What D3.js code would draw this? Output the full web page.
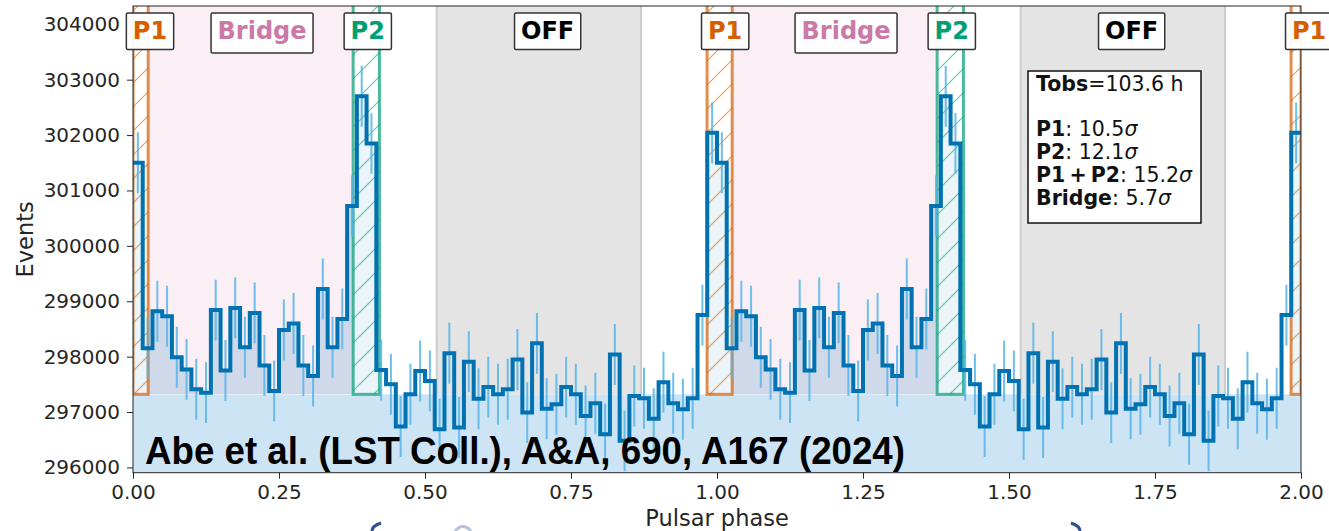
<!DOCTYPE html>
<html>
<head>
<meta charset="utf-8">
<script src="https://cdn.jsdelivr.net/npm/d3@7"></script>
<style>
  body { margin: 0; background: #fff; }
  svg { display: block; font-family: "DejaVu Sans", sans-serif; }
</style>
</head>
<body>
<svg id="chart" width="1329" height="531"></svg>
<script>
"use strict";

// events per phase bin, 60 bins per period
const binCounts = [
  301500, 298150, 298820, 298730, 297990, 297770, 297410, 297350, 298840, 297750,
  298880, 298170, 298790, 297840, 297380, 298480, 298600, 297840, 297650, 299220,
  298170, 298680, 300720, 302700, 301850, 297760, 297500, 296740, 297320, 297740,
  297560, 296690, 298060, 296720, 297910, 297240, 297450, 297320, 297410, 297950,
  296990, 298240, 297060, 297140, 297450, 297320, 296930, 297160, 296600, 298040,
  296480, 297290, 297250, 296880, 297540, 297160, 297050, 297250, 298750, 302040
];
const nBins = 60;
const periods = [0, 1];
const errHalf = 550;      // half length of the error bars (events)
const offLevel = 297320;  // background level estimated in OFF

// phase regions
const regionNames = ["P1", "Bridge", "P2", "OFF"];
const regionStart = [-0.017, 0.026, 0.377, 0.52];
const regionEnd = [0.026, 0.377, 0.422, 0.87];

// significance box
const tObs = 103.6;
const statNames = ["P1", "P2", "P1\u2009+\u2009P2", "Bridge"];
const statSigma = [10.5, 12.1, 15.2, 5.7];

const xTickValues = [0, 0.25, 0.5, 0.75, 1, 1.25, 1.5, 1.75, 2];
const yTickValues = [296000, 297000, 298000, 299000, 300000, 301000, 302000, 303000, 304000];

const mLeft = 133, mRight = 1301, mTop = 6, mBottom = 472.7;
const x = d3.scaleLinear().domain([0, 2]).range([mLeft, mRight]);
const y = d3.scaleLinear().domain([295905, 304330]).range([mBottom, mTop]);

const regColor = { P1: "#d55e00", P2: "#009e73", Bridge: "#cc79a7", OFF: "#000000" };

const svg = d3.select("#chart");
const defs = svg.append("defs");

defs.append("clipPath").attr("id", "plotClip")
  .append("rect").attr("x", mLeft).attr("y", mTop).attr("width", mRight - mLeft).attr("height", mBottom - mTop);

["P1", "P2"].forEach(function (n) {
  const p = defs.append("pattern").attr("id", "hatch" + n)
    .attr("patternUnits", "userSpaceOnUse").attr("width", 24).attr("height", 24);
  p.append("path").attr("d", "M0,24 L24,0 M-6,6 L6,-6 M18,30 L30,18")
    .attr("stroke", regColor[n]).attr("stroke-opacity", 0.6).attr("stroke-width", 1.2);
});

// all bins over two periods
const bins = [];
periods.forEach(function (p) {
  binCounts.forEach(function (c, k) {
    bins.push({ x0: p + k / nBins, x1: p + (k + 1) / nBins, c: c });
  });
});
const stepPts = bins.map(b => [b.x0, b.c]);
stepPts.push([2, bins[bins.length - 1].c]);

// region rectangles, repeated each period and cut to [0,2]
const regions = [];
[0, 1, 2].forEach(function (s) {
  regionNames.forEach(function (n, i) {
    const lo = Math.max(regionStart[i] + s, 0), hi = Math.min(regionEnd[i] + s, 2);
    if (hi > lo) regions.push({ name: n, lo: lo, hi: hi });
  });
});

const yB = y(offLevel);
const bridgeClip = defs.append("clipPath").attr("id", "bridgeClip");
const peakClip = defs.append("clipPath").attr("id", "peakClip");
regions.forEach(function (r) {
  const cp = r.name === "Bridge" ? bridgeClip : (r.name === "OFF" ? null : peakClip);
  if (!cp) return;
  cp.append("rect").attr("x", x(r.lo)).attr("width", x(r.hi) - x(r.lo))
    .attr("y", mTop - 20).attr("height", yB - mTop + 20);
});

const plot = svg.append("g").attr("clip-path", "url(#plotClip)");

// background band
plot.append("rect").attr("x", x(0)).attr("width", x(2) - x(0))
  .attr("y", yB).attr("height", mBottom - yB).attr("fill", "#cde4f5");

regions.forEach(function (r) {
  const fill = r.name === "OFF" ? "#e4e4e4" : (r.name === "Bridge" ? "#faeff5" : "#ffffff");
  plot.append("rect").attr("x", x(r.lo)).attr("width", x(r.hi) - x(r.lo))
    .attr("y", mTop - 20).attr("height", yB - mTop + 20).attr("fill", fill);
  if (r.name === "OFF") {
    [r.lo, r.hi].forEach(function (e) {
      plot.append("line").attr("x1", x(e)).attr("x2", x(e)).attr("y1", mTop).attr("y2", yB)
        .attr("stroke", "#cdcdcd").attr("stroke-width", 2);
    });
  }
});

// shaded area under histogram inside the on-pulse regions
const area = d3.area().curve(d3.curveStepAfter)
  .x(d => x(d[0])).y0(yB).y1(d => y(d[1]));
plot.append("path").datum(stepPts).attr("d", area)
  .attr("fill", "#0072b2").attr("fill-opacity", 0.17).attr("clip-path", "url(#bridgeClip)");
plot.append("path").datum(stepPts).attr("d", area)
  .attr("fill", "#0072b2").attr("fill-opacity", 0.08).attr("clip-path", "url(#peakClip)");

// hatch and edges of P1 / P2
regions.filter(r => r.name === "P1" || r.name === "P2").forEach(function (r) {
  plot.append("rect").attr("x", x(r.lo)).attr("width", x(r.hi) - x(r.lo))
    .attr("y", mTop - 20).attr("height", yB - mTop + 20).attr("fill", "url(#hatch" + r.name + ")");
  plot.append("rect").attr("x", x(r.lo)).attr("width", x(r.hi) - x(r.lo))
    .attr("y", mTop - 20).attr("height", yB - mTop + 20).attr("fill", "none")
    .attr("stroke", regColor[r.name]).attr("stroke-opacity", 0.7).attr("stroke-width", 3);
});

// error bars
plot.selectAll("line.err").data(bins).enter().append("line").attr("class", "err")
  .attr("x1", d => x((d.x0 + d.x1) / 2)).attr("x2", d => x((d.x0 + d.x1) / 2))
  .attr("y1", d => y(d.c - errHalf)).attr("y2", d => y(d.c + errHalf))
  .attr("stroke", "#56b4e9").attr("stroke-opacity", 0.85).attr("stroke-width", 2);

// histogram
const step = d3.line().curve(d3.curveStepAfter).x(d => x(d[0])).y(d => y(d[1]));
plot.append("path").datum(stepPts).attr("d", step)
  .attr("fill", "none").attr("stroke", "#0072b2").attr("stroke-width", 4);

// axes
const yAxis = svg.append("g").attr("transform", `translate(${mLeft},0)`)
  .call(d3.axisLeft(y).tickValues(yTickValues).tickSize(6).tickSizeOuter(0).tickPadding(7).tickFormat(d3.format("d")));
const xAxis = svg.append("g").attr("transform", `translate(0,${mBottom})`)
  .call(d3.axisBottom(x).tickValues(xTickValues).tickSize(6).tickSizeOuter(0).tickPadding(6).tickFormat(d3.format(".2f")));
[yAxis, xAxis].forEach(function (a) {
  a.select(".domain").remove();
  a.selectAll("text").attr("font-family", "DejaVu Sans").attr("font-size", 20).attr("fill", "#262626");
  a.selectAll("line").attr("stroke", "#262626").attr("stroke-width", 1);
});
svg.append("rect").attr("x", mLeft).attr("y", mTop).attr("width", mRight - mLeft).attr("height", mBottom - mTop)
  .attr("fill", "none").attr("stroke", "#262626").attr("stroke-width", 1);

svg.append("text").attr("x", x(1)).attr("y", 526).attr("text-anchor", "middle")
  .attr("font-size", 22.5).attr("fill", "#262626").text("Pulsar phase");
svg.append("text").attr("transform", `translate(33,${(mTop + mBottom) / 2}) rotate(-90)`)
  .attr("text-anchor", "middle").attr("font-size", 22.5).attr("fill", "#262626").text("Events");

// region labels
const labelOffset = { P1: 0.014, Bridge: 0.221, P2: 0.402, OFF: 0.71 };
[0, 1, 2].forEach(function (s) {
  regionNames.forEach(function (n) {
    const ph = labelOffset[n] + s;
    if (ph > 2.05) return;
    const cx = Math.max(x(ph), mLeft + 17);
    const g = svg.append("g");
    const t = g.append("text").attr("x", cx).attr("y", 38.5).attr("text-anchor", "middle")
      .attr("font-weight", "bold").attr("font-size", 24).attr("fill", regColor[n]).text(n);
    const bb = t.node().getBBox();
    g.insert("rect", "text").attr("x", bb.x - 6.5).attr("y", 13)
      .attr("width", bb.width + 13).attr("height", n === "Bridge" ? 40 : 36.5)
      .attr("rx", 1.5).attr("fill", "#fff").attr("fill-opacity", 0.95)
      .attr("stroke", "#333").attr("stroke-width", 1.5);
  });
});

// significance box
svg.append("rect").attr("x", 1028).attr("y", 71).attr("width", 173).attr("height", 152)
  .attr("fill", "#fff").attr("stroke", "#111").attr("stroke-width", 1.5);
const st = svg.append("text").attr("font-size", 20.5).attr("fill", "#111");
const l0 = st.append("tspan").attr("x", 1036).attr("y", 90.7);
l0.append("tspan").attr("font-weight", "bold").text("Tobs");
l0.append("tspan").text("=" + tObs + " h");
const lineY = [136, 159, 181.5, 204.5];
statNames.forEach(function (n, i) {
  const l = st.append("tspan").attr("x", 1036).attr("y", lineY[i]);
  l.append("tspan").attr("font-weight", "bold").text(n);
  l.append("tspan").text(": " + statSigma[i].toFixed(1));
  l.append("tspan").attr("font-style", "italic").text("σ");
});

// reference overlay
svg.append("text").attr("x", 145).attr("y", 464)
  .attr("font-family", "Liberation Sans, Arial, sans-serif").attr("font-weight", "bold")
  .attr("font-size", 38).attr("fill", "#000")
  .attr("textLength", 760).attr("lengthAdjust", "spacingAndGlyphs")
  .text("Abe et al. (LST Coll.), A&A, 690, A167 (2024)");

// slide decoration fragments at the bottom edge
svg.append("path").attr("d", "M381,523 Q372,526 372,531").attr("fill", "none")
  .attr("stroke", "#2f4f8f").attr("stroke-width", 3);
svg.append("path").attr("d", "M455,531 Q463,522 471,531").attr("fill", "none")
  .attr("stroke", "#b4c2de").attr("stroke-width", 3);
svg.append("path").attr("d", "M1071,523 Q1080,526 1080,531").attr("fill", "none")
  .attr("stroke", "#2f4f8f").attr("stroke-width", 3);
</script>
</body>
</html>
